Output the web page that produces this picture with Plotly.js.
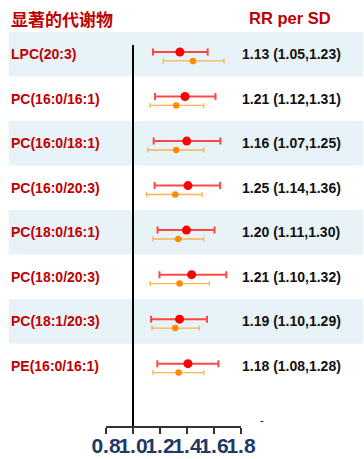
<!DOCTYPE html>
<html>
<head>
<meta charset="utf-8">
<script src="https://cdn.plot.ly/plotly-3.0.1.min.js"></script>
<style>html,body{margin:0;padding:0;background:#fff;}#chart{width:364px;height:459px;}</style>
</head>
<body>
<div id="chart"></div>
<script>
// Data
const metabolites = ["LPC(20:3)","PC(16:0/16:1)","PC(16:0/18:1)","PC(16:0/20:3)","PC(18:0/16:1)","PC(18:0/20:3)","PC(18:1/20:3)","PE(16:0/16:1)"];
const rrText = ["1.13 (1.05,1.23)","1.21 (1.12,1.31)","1.16 (1.07,1.25)","1.25 (1.14,1.36)","1.20 (1.11,1.30)","1.21 (1.10,1.32)","1.19 (1.10,1.29)","1.18 (1.08,1.28)"];
const redEst = [1.347,1.385,1.398,1.407,1.396,1.434,1.345,1.407];
const redLo  = [1.148,1.163,1.153,1.160,1.182,1.196,1.134,1.180];
const redHi  = [1.553,1.611,1.647,1.645,1.604,1.691,1.548,1.633];
const orgEst = [1.444,1.320,1.320,1.313,1.335,1.345,1.313,1.338];
const orgLo  = [1.225,1.127,1.109,1.100,1.148,1.127,1.141,1.148];
const orgHi  = [1.674,1.524,1.524,1.512,1.524,1.565,1.490,1.524];
const tickVals = [0.8,1.0,1.2,1.4,1.6,1.8];
const tickText = ["0.8","1.0","1.2","1.4","1.6","1.8"];

const rows = metabolites.map((_, i) => i + 1);
const W = 364, H = 459;
const L = 105.7, R = 241.3, T = 32, B = 426;
const pw = R - L;
const px = p => (p - L) / pw;

const FONT = "Liberation Sans, Arial, sans-serif";
const DARKRED = "#c00000";

const red = {
  type: 'scatter', mode: 'markers',
  x: redEst, y: rows.map(r => r - 0.05),
  marker: {color: '#ff0000', size: 9},
  error_x: {type: 'data', symmetric: false,
    array: redHi.map((h, i) => h - redEst[i]),
    arrayminus: redLo.map((l, i) => redEst[i] - l),
    color: 'rgba(255,40,40,0.85)', thickness: 2, width: 3.5},
  hoverinfo: 'skip', showlegend: false
};
const org = {
  type: 'scatter', mode: 'markers',
  x: orgEst, y: rows.map(r => r + 0.15),
  marker: {color: '#ff8c00', size: 6.5},
  error_x: {type: 'data', symmetric: false,
    array: orgHi.map((h, i) => h - orgEst[i]),
    arrayminus: orgLo.map((l, i) => orgEst[i] - l),
    color: 'rgba(255,165,50,0.85)', thickness: 1.3, width: 2.5},
  hoverinfo: 'skip', showlegend: false
};

const shapes = [];
rows.forEach(r => {
  if (r % 2 === 1) {
    shapes.push({type: 'rect', xref: 'paper', yref: 'y', x0: px(8), x1: px(364),
      y0: r - 0.5, y1: r + 0.5, fillcolor: '#e8f3f8', line: {width: 0}, layer: 'below'});
  }
});
shapes.push({type: 'line', xref: 'x', yref: 'paper', x0: 1, x1: 1,
  y0: 0, y1: (B - 45) / (B - T), line: {color: '#000', width: 2}, layer: 'above'});

const annotations = [];
rows.forEach((r, i) => {
  annotations.push({xref: 'paper', yref: 'y', x: px(8), y: r, text: metabolites[i],
    xanchor: 'left', yanchor: 'middle', showarrow: false,
    font: {family: FONT, size: 14, color: DARKRED, weight: 'bold'}});
  annotations.push({xref: 'paper', yref: 'y', x: px(240), y: r, text: rrText[i],
    xanchor: 'left', yanchor: 'middle', showarrow: false,
    font: {family: FONT, size: 14, color: '#111', weight: 'bold'}});
});
annotations.push({xref: 'paper', yref: 'paper', x: px(8), y: 1 + (T - 18) / (B - T), text: '显著的代谢物',
  xanchor: 'left', yanchor: 'middle', showarrow: false,
  font: {family: '"Noto Sans CJK SC", sans-serif', size: 17, color: DARKRED, weight: 'bold'}});
annotations.push({xref: 'paper', yref: 'paper', x: px(247), y: 1 + (T - 18) / (B - T), text: 'RR per SD',
  xanchor: 'left', yanchor: 'middle', showarrow: false,
  font: {family: FONT, size: 16.5, color: DARKRED, weight: 'bold'}});
annotations.push({xref: 'paper', yref: 'paper', x: px(262), y: -(421 - B) / (B - T), text: '-',
  xanchor: 'center', yanchor: 'middle', showarrow: false,
  font: {family: FONT, size: 12, color: '#333'}});

const layout = {
  width: W, height: H,
  margin: {l: L, r: W - R, t: T, b: H - B, pad: 0},
  paper_bgcolor: '#fff', plot_bgcolor: 'rgba(0,0,0,0)',
  xaxis: {range: [0.8, 1.8], tickvals: tickVals, ticktext: tickText, tickangle: 0,
    ticklabelstandoff: -6,
    showgrid: false, zeroline: false, showline: true, linecolor: '#333', linewidth: 1.5,
    ticks: 'outside', ticklen: 6, tickwidth: 1.5, tickcolor: '#333',
    tickfont: {family: '"Liberation Sans Narrow", "Arial Narrow", ' + FONT, size: 21, color: '#1f3864', weight: 'bold'},
    fixedrange: true},
  yaxis: {range: [9.35, 0.5], visible: false, fixedrange: true},
  shapes: shapes, annotations: annotations, showlegend: false
};

Plotly.newPlot('chart', [red, org], layout, {displayModeBar: false, staticPlot: true});
</script>
</body>
</html>
